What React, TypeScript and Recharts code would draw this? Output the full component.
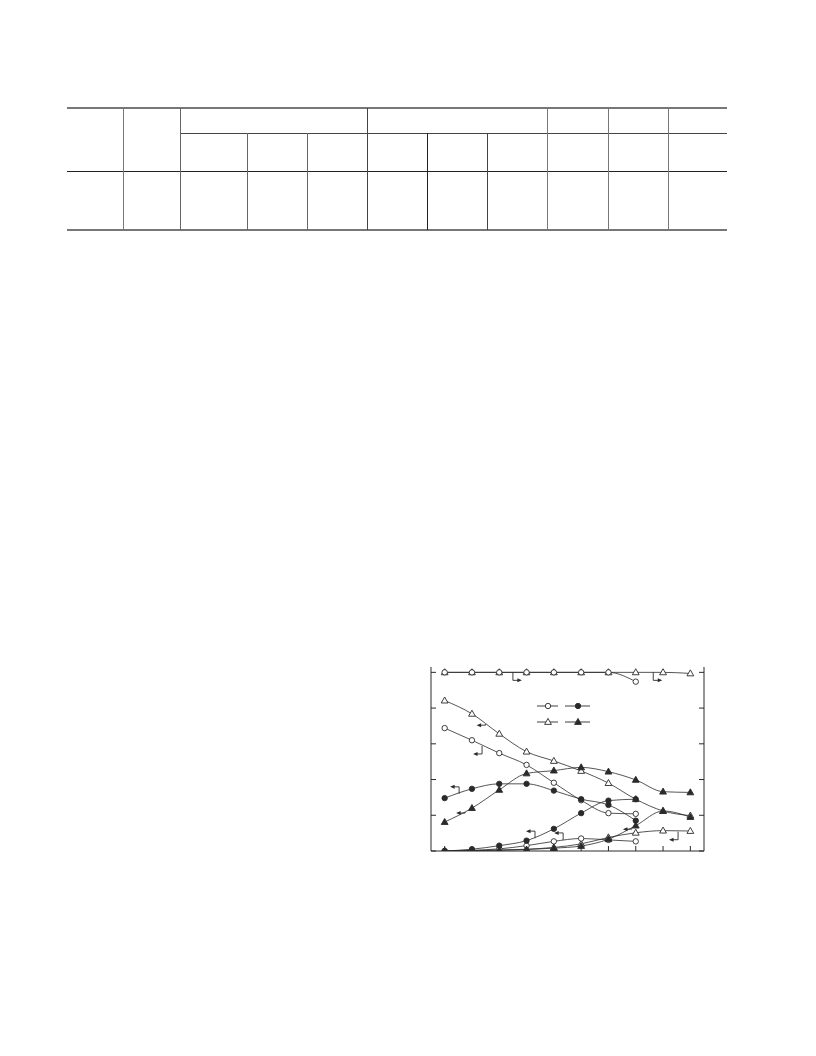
import { LineChart, Line, XAxis, YAxis, ReferenceDot } from 'recharts';

// x positions (sample index) and y ticks
const xIndex = [0, 1, 2, 3, 4, 5, 6, 7, 8, 9];
const yTicks = [0, 1, 2, 3, 4, 5];

// circle series have 8 samples, triangle series have 10
const openCircleTop = [5, 5, 5, 5, 5, 5, 5, 4.74];
const openTriangleTop = [5, 5, 5, 5, 5, 5, 5, 5, 5, 4.97];
const openTriangleFall = [4.21, 3.84, 3.28, 2.78, 2.52, 2.24, 1.9, 1.45, 1.12, 0.99];
const openCircleFall = [3.44, 3.1, 2.74, 2.41, 1.91, 1.42, 1.06, 1.04];
const filledCircleHump = [1.48, 1.74, 1.88, 1.88, 1.69, 1.45, 1.29, 0.85];
const filledTriangleHump = [0.81, 1.2, 1.71, 2.17, 2.25, 2.34, 2.22, 1.99, 1.66, 1.64];
const filledCircleRise = [0, 0.05, 0.15, 0.29, 0.62, 1.06, 1.41, 1.45];
const openCircleLow = [0, 0.02, 0.06, 0.15, 0.27, 0.35, 0.31, 0.27];
const filledTriangleRise = [0, 0.01, 0.02, 0.04, 0.08, 0.14, 0.33, 0.71, 1.12, 0.95];
const openTriangleLow = [0, 0.01, 0.03, 0.05, 0.1, 0.2, 0.38, 0.51, 0.57, 0.56];

// axis pointer arrows (anchor on curve, in data units)
const arrowX = [2.5, 7.64, 1.5, 1.37, 0.53, 0.75, 3.31, 4.34, 6.86, 8.55];
const arrowY = [5, 5, 3.55, 2.94, 1.6, 1.09, 0.36, 0.31, 0.64, 0.54];
const arrowDir = ['right', 'right', 'left', 'left', 'left', 'left', 'left', 'left', 'left', 'left'];
const arrowHook = ['down', 'down', 'none', 'down', 'up', 'none', 'up', 'up', 'none', 'down'];

const data = xIndex.map((x, i) => ({
  x,
  ocTop: openCircleTop[i],
  otTop: openTriangleTop[i],
  otFall: openTriangleFall[i],
  ocFall: openCircleFall[i],
  fcHump: filledCircleHump[i],
  ftHump: filledTriangleHump[i],
  fcRise: filledCircleRise[i],
  ocLow: openCircleLow[i],
  ftRise: filledTriangleRise[i],
  otLow: openTriangleLow[i],
}));

const INK = '#2a2a2a';

const circleDot = (filled: boolean) => (p: any) => {
  if (p.cx == null || p.cy == null || p.value == null) return <g key={p.key} />;
  return (
    <circle key={p.key} cx={p.cx} cy={p.cy} r={2.7}
      fill={filled ? INK : '#fff'} stroke={INK} strokeWidth={0.9} />
  );
};

const triangleDot = (filled: boolean) => (p: any) => {
  if (p.cx == null || p.cy == null || p.value == null) return <g key={p.key} />;
  const { cx, cy } = p;
  return (
    <path key={p.key}
      d={`M${cx},${cy - 3.6} L${cx + 3.4},${cy + 2.4} L${cx - 3.4},${cy + 2.4} Z`}
      fill={filled ? INK : '#fff'} stroke={INK} strokeWidth={0.9} />
  );
};

const LeftTick = ({ x, y }: any) => <line x1={x} x2={x + 5} y1={y} y2={y} stroke={INK} />;
const RightTick = ({ x, y }: any) => <line x1={x} x2={x - 5} y1={y} y2={y} stroke={INK} />;
const BottomTick = ({ x, y }: any) => <line x1={x} x2={x} y1={y} y2={y - 5} stroke={INK} />;

const arrowShape = (dir: string, hook: string) => (p: any) => {
  const { cx, cy } = p;
  const drop = hook === 'down' ? 8 : hook === 'up' ? -7 : 1;
  const s = dir === 'right' ? 1 : -1;
  const y2 = cy + drop;
  const x2 = cx + s * 9;
  return (
    <g>
      <path d={`M${cx},${cy} L${cx},${y2} L${x2 - s * 3},${y2}`} fill="none" stroke={INK} strokeWidth={0.9} />
      <path d={`M${x2},${y2} L${x2 - s * 4.5},${y2 - 2} L${x2 - s * 4.5},${y2 + 2} Z`} fill={INK} />
    </g>
  );
};

const series = [
  { key: 'otTop', dot: triangleDot(false) },
  { key: 'ocTop', dot: circleDot(false) },
  { key: 'otFall', dot: triangleDot(false) },
  { key: 'ocFall', dot: circleDot(false) },
  { key: 'ftHump', dot: triangleDot(true) },
  { key: 'fcHump', dot: circleDot(true) },
  { key: 'otLow', dot: triangleDot(false) },
  { key: 'ocLow', dot: circleDot(false) },
  { key: 'ftRise', dot: triangleDot(true) },
  { key: 'fcRise', dot: circleDot(true) },
];

// table rules (page layout above the chart)
const hRules = [
  { x1: 67, x2: 727, y: 107, w: 2, c: '#777' },
  { x1: 180, x2: 727, y: 133, w: 1, c: '#444' },
  { x1: 67, x2: 727, y: 171, w: 1, c: '#222' },
  { x1: 67, x2: 727, y: 229, w: 2, c: '#777' },
];
const vRules = [
  { x: 123, y1: 108, c: '#777' }, { x: 180, y1: 108, c: '#666' },
  { x: 247, y1: 133, c: '#666' }, { x: 307, y1: 133, c: '#666' },
  { x: 367, y1: 108, c: '#444' }, { x: 427, y1: 133, c: '#222' },
  { x: 487, y1: 133, c: '#444' }, { x: 547, y1: 108, c: '#777' },
  { x: 608, y1: 108, c: '#777' }, { x: 668, y1: 108, c: '#777' },
];

const LegendKey = () => (
  <svg width={60} height={26} style={{ position: 'absolute', left: 534, top: 700 }}>
    {[6, 22].map((y, r) => (
      <g key={r}>
        <line x1={3} x2={24} y1={y} y2={y} stroke={INK} strokeWidth={0.9} />
        <line x1={31} x2={56} y1={y} y2={y} stroke={INK} strokeWidth={0.9} />
        {r === 0 ? (
          <>
            <circle cx={14} cy={y} r={2.7} fill="#fff" stroke={INK} strokeWidth={0.9} />
            <circle cx={44} cy={y} r={2.7} fill={INK} stroke={INK} strokeWidth={0.9} />
          </>
        ) : (
          <>
            <path d={`M14,${y - 3.6} L17.4,${y + 2.4} L10.6,${y + 2.4} Z`} fill="#fff" stroke={INK} strokeWidth={0.9} />
            <path d={`M44,${y - 3.6} L47.4,${y + 2.4} L40.6,${y + 2.4} Z`} fill={INK} stroke={INK} strokeWidth={0.9} />
          </>
        )}
      </g>
    ))}
  </svg>
);

const App = () => {
  return (
    <div style={{ position: 'absolute', left: 0, top: 0, width: 816, height: 1056, background: '#fff' }}>
      {hRules.map((r, i) => (
        <div key={`h${i}`} style={{ position: 'absolute', left: r.x1, top: r.y, width: r.x2 - r.x1, height: r.w, background: r.c }} />
      ))}
      {vRules.map((r, i) => (
        <div key={`v${i}`} style={{ position: 'absolute', left: r.x, top: r.y1, width: 1, height: 230 - r.y1, background: r.c }} />
      ))}

      <div style={{ position: 'absolute', left: 400, top: 650 }}>
        <LineChart width={330} height={220} data={data}
          margin={{ top: 17, left: 21, right: 16, bottom: 9 }}>
          <XAxis type="number" dataKey="x" domain={[-0.5, 9.5]} ticks={xIndex}
            height={10} tickSize={0} tickMargin={0} tick={<BottomTick />}
            axisLine={{ stroke: INK }} allowDataOverflow />
          <YAxis yAxisId="left" orientation="left" type="number" domain={[0, 5.15]} ticks={yTicks}
            width={10} tickSize={0} tickMargin={0} tick={<LeftTick />}
            axisLine={{ stroke: INK }} allowDataOverflow />
          <YAxis yAxisId="right" orientation="right" type="number" domain={[0, 5.15]} ticks={yTicks}
            width={10} tickSize={0} tickMargin={0} tick={<RightTick />}
            axisLine={{ stroke: INK }} allowDataOverflow />
          {series.map(s => (
            <Line key={s.key} yAxisId="left" type="monotone" dataKey={s.key}
              stroke={INK} strokeWidth={0.8} dot={s.dot} activeDot={false}
              isAnimationActive={false} />
          ))}
          {arrowX.map((x, i) => (
            <ReferenceDot key={`a${i}`} yAxisId="left" x={x} y={arrowY[i]}
              shape={arrowShape(arrowDir[i], arrowHook[i])} />
          ))}
        </LineChart>
      </div>
      <LegendKey />
    </div>
  );
};

export default App;
